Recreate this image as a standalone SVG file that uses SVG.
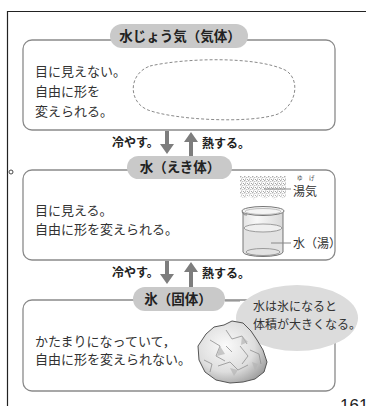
<svg xmlns="http://www.w3.org/2000/svg" width="366" height="406" viewBox="0 0 366 406">
  <style>
    .frame { fill: none; stroke: #222; stroke-width: 1.2; }
    .box { fill: #fff; stroke: #8a8a8a; stroke-width: 1.3; }
    .pill { fill: #c9c9c9; }
    .title { font-family: "Noto Sans CJK JP", "Noto Sans", sans-serif; font-size: 13.5px; font-weight: bold; fill: #222; text-anchor: middle; }
    .body { font-family: "Noto Sans CJK JP", "Noto Sans", sans-serif; font-size: 13px; fill: #333; }
    .lbl { font-family: "Noto Sans CJK JP", "Noto Sans", sans-serif; font-size: 12px; font-weight: bold; fill: #222; }
    .side { font-family: "Noto Sans CJK JP", "Noto Sans", sans-serif; font-size: 12px; fill: #333; }
    .ruby { font-family: "Noto Sans CJK JP", "Noto Sans", sans-serif; font-size: 5.5px; fill: #444; }
    .arrow { fill: #7d7d7d; }
    .lead { stroke: #888; stroke-width: 1; fill: none; }
    .glass { fill: none; stroke: #777; stroke-width: 1; }
  </style>
  <defs>
    <pattern id="steamDots" width="4" height="4" patternUnits="userSpaceOnUse">
      <circle cx="0.8" cy="0.8" r="0.7" fill="#8a8a8a"/>
      <circle cx="2.8" cy="1.6" r="0.65" fill="#a0a0a0"/>
      <circle cx="1.6" cy="3.1" r="0.65" fill="#959595"/>
      <circle cx="3.5" cy="3.5" r="0.5" fill="#7c7c7c"/>
    </pattern>
    <linearGradient id="steamFade" x1="0" y1="0" x2="0" y2="1">
      <stop offset="0" stop-color="#fff" stop-opacity="1"/>
      <stop offset="0.75" stop-color="#fff" stop-opacity="0.9"/>
      <stop offset="1" stop-color="#fff" stop-opacity="0.3"/>
    </linearGradient>
    <mask id="steamMask">
      <rect x="238" y="173" width="50" height="28" fill="url(#steamFade)"/>
    </mask>
    <radialGradient id="iceFill" cx="0.4" cy="0.4" r="0.7">
      <stop offset="0" stop-color="#fafafa"/>
      <stop offset="0.6" stop-color="#dedede"/>
      <stop offset="1" stop-color="#9a9a9a"/>
    </radialGradient>
    <linearGradient id="glassFill" x1="0" y1="0" x2="1" y2="0">
      <stop offset="0" stop-color="#e4e4e4"/>
      <stop offset="0.35" stop-color="#f8f8f8"/>
      <stop offset="1" stop-color="#d8d8d8"/>
    </linearGradient>
  </defs>

  <!-- page frame -->
  <path class="frame" d="M7.5,406 V11.5 H366"/>
  <circle cx="11" cy="172" r="2" fill="#fff" stroke="#333" stroke-width="0.9"/>
  <text x="340" y="411" font-family="Liberation Sans, sans-serif" font-size="17" fill="#222">161</text>

  <!-- connectors -->
  <g id="connectors">
    <text class="lbl" x="112" y="147">冷やす。</text>
    <path class="arrow" d="M165,131 h4 v13 h5 l-7,10 l-7,-10 h5 z"/>
    <path class="arrow" d="M189,157 h4 v-15 h5 l-7,-10 l-7,10 h5 z"/>
    <text class="lbl" x="202" y="148">熱する。</text>

    <text class="lbl" x="112" y="277">冷やす。</text>
    <path class="arrow" d="M165,261 h4 v13 h5 l-7,10 l-7,-10 h5 z"/>
    <path class="arrow" d="M189,287 h4 v-15 h5 l-7,-10 l-7,10 h5 z"/>
    <text class="lbl" x="202" y="278">熱する。</text>
  </g>

  <!-- water vapour (gas) -->
  <g id="gas">
    <rect class="box" x="23" y="40" width="312" height="90" rx="9"/>
    <rect class="pill" x="110" y="24" width="138" height="24" rx="12"/>
    <text class="title" x="180" y="41">水じょう気（気体）</text>
    <text class="body" x="35" y="76">目に見えない。</text>
    <text class="body" x="35" y="96">自由に形を</text>
    <text class="body" x="35" y="116">変えられる。</text>
    <path d="M150,66 C185,58 255,56 285,70 C300,78 298,104 278,114 C250,124 175,120 148,110 C128,102 128,74 150,66 Z" fill="none" stroke="#8a8a8a" stroke-width="1" stroke-dasharray="3 2"/>
  </g>

  <!-- water (liquid) -->
  <g id="liquid">
    <rect class="box" x="23" y="170" width="312" height="90" rx="9"/>
    <rect class="pill" x="127" y="156" width="105" height="23" rx="11.5"/>
    <text class="title" x="180" y="172">水（えき体）</text>
    <text class="body" x="35" y="215">目に見える。</text>
    <text class="body" x="35" y="234">自由に形を変えられる。</text>
    <!-- steam -->
    <g mask="url(#steamMask)">
      <path d="M240,176 H286 V196 L283,199 L279,196 L275,200 L270,196 L265,199 L260,196 L254,200 L249,196 L244,199 L240,196 Z" fill="url(#steamDots)"/>
    </g>
    <line class="lead" x1="264" y1="189" x2="291" y2="189"/>
    <text class="ruby" x="297" y="180">ゆ</text>
    <text class="ruby" x="309" y="180">げ</text>
    <text class="side" x="293" y="196">湯気</text>
    <!-- beaker -->
    <path d="M243,211 V252 A20,4.5 0 0 0 283,252 V211 Z" fill="url(#glassFill)"/>
    <path d="M244,228 V252 A19,4.5 0 0 0 282,252 V228 Z" fill="#e2e2e2"/>
    <ellipse cx="263" cy="228" rx="19" ry="4" fill="#efefef" stroke="#888" stroke-width="0.8"/>
    <ellipse cx="263" cy="252" rx="17" ry="3.5" fill="none" stroke="#888" stroke-width="0.8"/>
    <path class="glass" d="M243,211 V252 A20,4.5 0 0 0 283,252 V211"/>
    <ellipse cx="263" cy="211" rx="21" ry="4.5" fill="#f4f4f4" stroke="#777" stroke-width="1"/>
    <ellipse cx="263" cy="211.5" rx="18" ry="3" fill="none" stroke="#999" stroke-width="0.6"/>
    <path d="M242,212 q2,4 5,3" fill="none" stroke="#777" stroke-width="0.9"/>
    <line class="lead" x1="271" y1="243" x2="291" y2="243"/>
    <text class="side" x="293" y="248">水（湯）</text>
  </g>

  <!-- ice (solid) -->
  <g id="solid">
    <rect class="box" x="23" y="300" width="312" height="91" rx="9"/>
    <rect class="pill" x="133" y="287" width="92" height="24" rx="12"/>
    <text class="title" x="178" y="304">氷（固体）</text>
    <text class="body" x="35" y="346">かたまりになっていて，</text>
    <text class="body" x="35" y="364">自由に形を変えられない。</text>
  </g>

  <!-- note -->
  <g id="note">
    <line class="lead" x1="225" y1="301" x2="240" y2="301"/>
    <ellipse cx="297" cy="318" rx="61" ry="33" fill="#dcdcdc"/>
    <text class="side" x="253" y="311">水は氷になると</text>
    <text class="side" x="253" y="329">体積が大きくなる。</text>
  </g>

  <!-- block of ice -->
  <g id="ice">
    <path d="M206,334 L214,327 L224,325 L232,321 L243,323 L251,331 L257,340 L263,350 L267,362 L264,372 L255,379 L243,382 L230,383 L216,380 L205,372 L199,360 L198,346 Z" fill="url(#iceFill)" stroke="#555" stroke-width="1"/>
    <g fill="none" stroke="#8f8f8f" stroke-width="0.8">
      <path d="M210,340 l10,6 l-4,10 l9,5"/>
      <path d="M226,330 l6,9 l10,-3 l5,8"/>
      <path d="M218,366 l12,-4 l8,8 l10,-5"/>
      <path d="M240,346 l8,10 l-6,8"/>
      <path d="M204,360 l8,4 l-2,8"/>
      <path d="M250,350 l9,4 l2,10"/>
      <path d="M232,352 l-6,-6"/>
    </g>
    <g fill="#b5b5b5" opacity="0.7">
      <path d="M220,346 l5,8 l-8,2 z"/>
      <path d="M242,336 l6,6 l-7,3 z"/>
      <path d="M230,368 l8,2 l-4,6 z"/>
      <path d="M252,362 l6,2 l-3,7 z"/>
    </g>
  </g>
</svg>
